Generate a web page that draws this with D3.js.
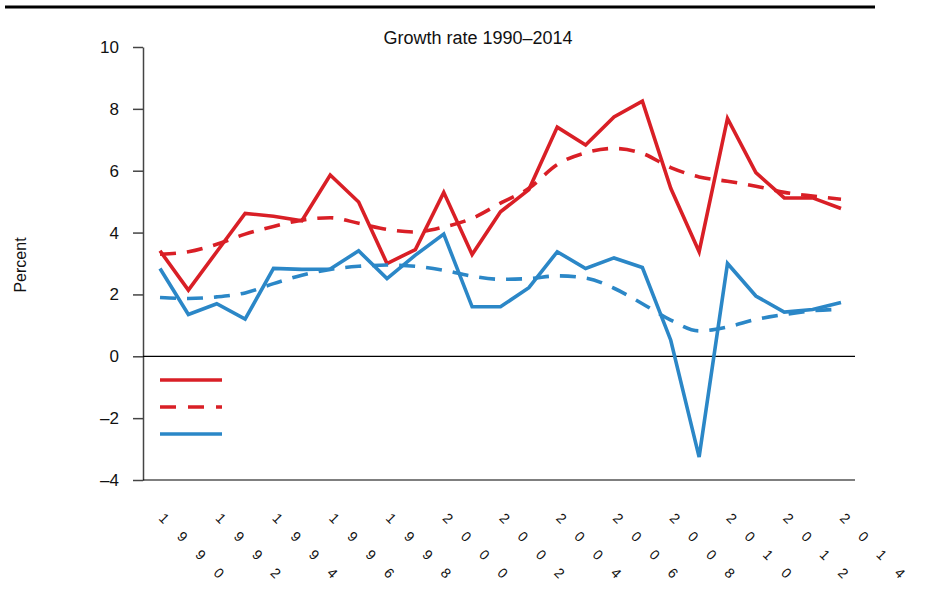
<!DOCTYPE html>
<html>
<head>
<meta charset="utf-8">
<script src="https://cdn.jsdelivr.net/npm/d3@7"></script>
<style>
body { margin: 0; background: #fff; }
text { font-family: "Liberation Sans", Arial, sans-serif; fill: #111; }
</style>
</head>
<body>
<div id="chart"></div>
<script>
// data
var years = [1990, 1991, 1992, 1993, 1994, 1995, 1996, 1997, 1998, 1999, 2000, 2001, 2002,
             2003, 2004, 2005, 2006, 2007, 2008, 2009, 2010, 2011, 2012, 2013, 2014];
var tickYears = [1990, 1992, 1994, 1996, 1998, 2000, 2002, 2004, 2006, 2008, 2010, 2012, 2014];
var yTicks = [-4, -2, 0, 2, 4, 6, 8, 10];

var redActual = [3.41, 2.14, 3.38, 4.62, 4.53, 4.38, 5.86, 4.99, 3.00, 3.45, 5.30, 3.29, 4.67,
                 5.39, 7.41, 6.83, 7.74, 8.25, 5.43, 3.38, 7.69, 5.94, 5.12, 5.12, 4.78];
var redTrend  = [3.30, 3.38, 3.62, 3.95, 4.20, 4.40, 4.48, 4.30, 4.10, 4.02, 4.18, 4.46, 4.95,
                 5.43, 6.20, 6.58, 6.72, 6.56, 6.10, 5.80, 5.66, 5.50, 5.30, 5.18, 5.08];
var blueActual = [2.84, 1.35, 1.70, 1.20, 2.84, 2.81, 2.82, 3.41, 2.51, 3.27, 3.95, 1.60, 1.60,
                  2.22, 3.38, 2.84, 3.18, 2.87, 0.52, -3.26, 3.00, 1.95, 1.43, 1.51, 1.74];
var blueTrend  = [1.90, 1.87, 1.92, 2.05, 2.35, 2.62, 2.81, 2.91, 2.95, 2.91, 2.78, 2.59, 2.49,
                  2.51, 2.60, 2.53, 2.20, 1.70, 1.17, 0.82, 0.95, 1.19, 1.35, 1.47, 1.52];

var red = "#d91f26", blue = "#2b87c7";

var series = [
    { values: redActual, color: red, dashed: false },
    { values: redTrend, color: red, dashed: true },
    { values: blueActual, color: blue, dashed: false },
    { values: blueTrend, color: blue, dashed: true }
];

var svgWidth = 936, svgHeight = 598;
var svg = d3.select("#chart").append("svg")
    .attr("width", svgWidth)
    .attr("height", svgHeight);

var x = d3.scaleLinear().domain([1990, 2014]).range([160, 841]);
var y = d3.scaleLinear().domain([-4, 10]).range([480, 47]);
var axisLeftX = 143, axisRightX = 855;

// top rule
svg.append("line")
    .attr("x1", 5).attr("x2", 875)
    .attr("y1", 7).attr("y2", 7)
    .attr("stroke", "#000")
    .attr("stroke-width", 3);

// title
svg.append("text")
    .attr("x", 478)
    .attr("y", 44)
    .attr("text-anchor", "middle")
    .style("font-size", "18px")
    .text("Growth rate 1990\u20132014");

// y axis
var yAxis = svg.append("g")
    .attr("transform", "translate(" + axisLeftX + ",0)")
    .call(d3.axisLeft(y)
        .tickValues(yTicks)
        .tickSize(10)
        .tickPadding(14)
        .tickSizeOuter(0)
        .tickFormat(function(d) { return d < 0 ? "\u2013" + Math.abs(d) : d; }));
yAxis.select(".domain").attr("stroke", "#444").attr("stroke-width", 1.5);
yAxis.selectAll(".tick line").attr("stroke", "#444").attr("stroke-width", 1.5);
yAxis.selectAll(".tick text")
    .style("font-size", "17px")
    .style("font-family", "'Liberation Sans',Arial,sans-serif")
    .attr("fill", "#111");

// y axis label
svg.append("text")
    .attr("transform", "rotate(-90)")
    .attr("x", -265)
    .attr("y", 26)
    .attr("text-anchor", "middle")
    .style("font-size", "16px")
    .text("Percent");

// zero line and bottom line
svg.append("line")
    .attr("x1", axisLeftX).attr("x2", axisRightX)
    .attr("y1", y(0)).attr("y2", y(0))
    .attr("stroke", "#000").attr("stroke-width", 1.2);
svg.append("line")
    .attr("x1", axisLeftX).attr("x2", axisRightX)
    .attr("y1", y(-4)).attr("y2", y(-4))
    .attr("stroke", "#000").attr("stroke-width", 1.2);

// x labels, rotated, with wide spacing between the digits
var xLabels = svg.append("g").selectAll("text")
    .data(tickYears)
    .enter()
    .append("text")
    .attr("transform", function(d) { return "translate(" + (x(d) - 2) + ",519) rotate(45)"; })
    .style("font-size", "14px")
    .attr("fill", "#666");

xLabels.selectAll("tspan")
    .data(function(d) { return String(d).split(""); })
    .enter()
    .append("tspan")
    .attr("dx", function(c, i) { return i === 0 ? 0 : 18; })
    .text(function(c) { return c; });

// lines
series.forEach(function(s) {
    var line = d3.line()
        .x(function(d, i) { return x(years[i]); })
        .y(function(d) { return y(d); })
        .curve(s.dashed ? d3.curveMonotoneX : d3.curveLinear);

    svg.append("path")
        .datum(s.values)
        .attr("d", line)
        .attr("fill", "none")
        .attr("stroke", s.color)
        .attr("stroke-width", 3.6)
        .attr("stroke-linejoin", "miter")
        .attr("stroke-dasharray", s.dashed ? "16,11" : null);
});

// legend (samples only, no text in the reference)
var legendItems = series.slice(0, 3);
svg.append("g").selectAll("line")
    .data(legendItems)
    .enter()
    .append("line")
    .attr("x1", 160).attr("x2", 222)
    .attr("y1", function(d, i) { return 380 + i * 27; })
    .attr("y2", function(d, i) { return 380 + i * 27; })
    .attr("stroke", function(d) { return d.color; })
    .attr("stroke-width", 3.6)
    .attr("stroke-dasharray", function(d) { return d.dashed ? "16,12" : null; });
</script>
</body>
</html>
